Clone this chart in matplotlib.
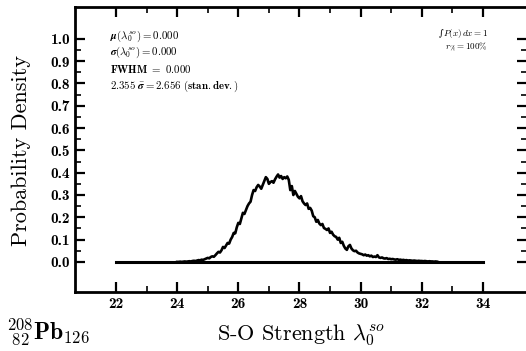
import matplotlib.pyplot as plt
import numpy as np

# S-O strength histogram, bins of 0.05 from 24.00 to 32.50
x_first = 24.0
x_last = 32.5
density = [
    0.000, 0.000, 0.001, 0.000, 0.001, 0.002, 0.001, 0.002, 0.003, 0.002,
    0.004, 0.005, 0.004, 0.006, 0.008, 0.007, 0.010, 0.009, 0.012, 0.015,
    0.018, 0.016, 0.022, 0.025, 0.023, 0.030, 0.038, 0.045, 0.042, 0.052,
    0.067, 0.062, 0.074, 0.085, 0.082, 0.100, 0.112, 0.130, 0.128, 0.155,
    0.175, 0.170, 0.195, 0.220, 0.215, 0.232, 0.250, 0.262, 0.270, 0.300,
    0.322, 0.318, 0.335, 0.345, 0.338, 0.328, 0.345, 0.362, 0.380, 0.372,
    0.350, 0.358, 0.362, 0.355, 0.370, 0.382, 0.392, 0.378, 0.385, 0.372,
    0.380, 0.375, 0.383, 0.368, 0.322, 0.340, 0.300, 0.318, 0.305, 0.292,
    0.285, 0.295, 0.272, 0.262, 0.255, 0.262, 0.238, 0.242, 0.230, 0.205,
    0.200, 0.180, 0.188, 0.172, 0.165, 0.170, 0.152, 0.148, 0.143, 0.150,
    0.130, 0.135, 0.122, 0.115, 0.112, 0.100, 0.108, 0.085, 0.090, 0.072,
    0.060, 0.054, 0.070, 0.076, 0.060, 0.052, 0.048, 0.050, 0.042, 0.038,
    0.036, 0.034, 0.030, 0.033, 0.028, 0.030, 0.025, 0.028, 0.022, 0.024,
    0.022, 0.030, 0.020, 0.018, 0.020, 0.016, 0.015, 0.017, 0.013, 0.014,
    0.012, 0.013, 0.011, 0.010, 0.012, 0.009, 0.010, 0.008, 0.009, 0.007,
    0.008, 0.006, 0.007, 0.006, 0.005, 0.006, 0.005, 0.004, 0.005, 0.004,
    0.004, 0.003, 0.004, 0.003, 0.002, 0.003, 0.002, 0.002, 0.001, 0.002,
    0.001,
]
range_lo = 22
range_hi = 34
xticks = [22, 24, 26, 28, 30, 32, 34]
yticks = [0.0, 0.1, 0.2, 0.3, 0.4, 0.5, 0.6, 0.7, 0.8, 0.9, 1.0]

stats_lines = [
    r"$\boldsymbol{\mu}(\boldsymbol{\lambda}_0^{so}) = \mathbf{0.000}$",
    r"$\boldsymbol{\sigma}(\boldsymbol{\lambda}_0^{so}) = \mathbf{0.000}$",
    r"$\mathbf{FWHM\ =\ 0.000}$",
    r"$\mathbf{2.355}\ \bar{\boldsymbol{\sigma}} = \mathbf{2.656\ (stan.dev.)}$",
]

plt.rcParams['font.family'] = 'serif'
plt.rcParams['font.serif'] = ['cmr10']
plt.rcParams['mathtext.fontset'] = 'cm'
plt.rcParams['axes.unicode_minus'] = False

x = np.linspace(x_first, x_last, len(density))
H = 351

fig = plt.figure(figsize=(5.26, 3.51), dpi=100)
ax = fig.add_axes([75/526, 1 - 292/H, 452/526, 285/H])

ax.plot([range_lo, range_hi], [0, 0], color='black', lw=2.2)
ax.plot(x, density, color='black', lw=1.9)

ax.set_xlim(20.66, 35.44)
ax.set_ylim(-0.135, 1.143)
ax.set_xticks(xticks)
ax.set_xticks(np.arange(23, 34, 2), minor=True)
ax.set_yticks(yticks)
ax.set_yticks(np.arange(0.05, 1.0, 0.1), minor=True)
ax.set_yticklabels(['%.1f' % v for v in yticks])

for s in ax.spines.values():
    s.set_linewidth(2)
ax.tick_params(which='both', direction='in', top=True, right=True,
               labelfontfamily='cmb10', labelsize=11)
ax.tick_params(which='major', length=7, width=1.6)
ax.tick_params(which='minor', length=4, width=1.2)

fig.text(21/526, 1 - 150/H, 'Probability Density', rotation=90,
         ha='center', va='center', fontsize=16)
fig.text(301/526, 1 - 335/H, r'S-O Strength $\boldsymbol{\lambda}_0^{so}$',
         ha='center', va='center', fontsize=16)
fig.text(6/526, 1 - 332/H,
         r'${}^{\mathbf{208}}_{\ \mathbf{82}}\mathbf{Pb}_{\mathbf{126}}$',
         ha='left', va='center', fontsize=17)

for i, line in enumerate(stats_lines):
    fig.text(110/526, 1 - (36 + i * 16.7)/H, line, fontsize=7.8,
             ha='left', va='center')
fig.text(439/526, 1 - 34/H, '\u222b', fontsize=6.5, ha='left', va='center',
         family='DejaVu Serif')
fig.text(488/526, 1 - 34/H, r'$P(x)\,dx = 1$', fontsize=6.5,
         ha='right', va='center')
fig.text(488/526, 1 - 47/H, r'$r_{\%} = 100\%$', fontsize=6.5, ha='right', va='center')

plt.savefig('out.png', dpi=100)
